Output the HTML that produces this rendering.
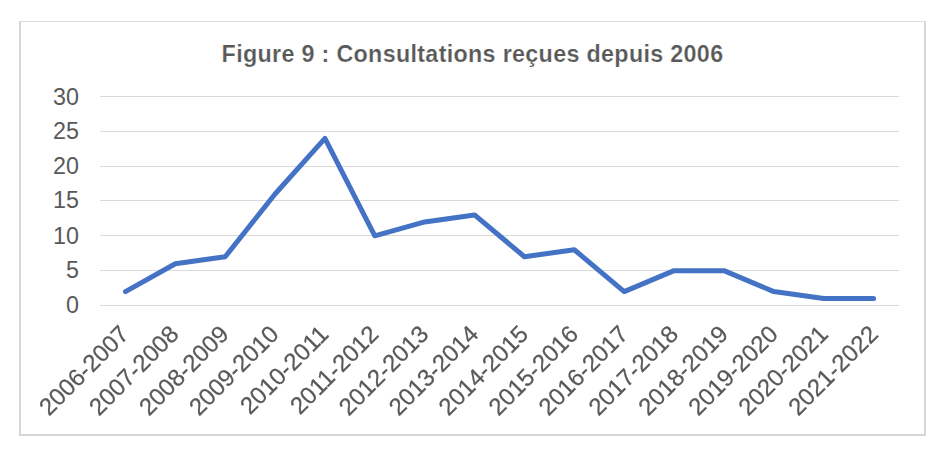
<!DOCTYPE html>
<html><head><meta charset="utf-8"><title>Figure 9</title>
<style>
html,body{margin:0;padding:0;background:#fff;}
body{width:950px;height:453px;overflow:hidden;position:relative;font-family:"Liberation Sans",Arial,sans-serif;}
#frame{position:absolute;left:19px;top:21px;width:903px;height:412px;border-style:solid;border-color:#dddddd #d6d6d6 #d6d6d6 #d6d6d6;border-width:1px 2px 2px 2px;background:#fff;}
svg{position:absolute;left:0;top:0;}
svg text{font-family:"Liberation Sans",Arial,sans-serif;fill:#595959;font-size:23.3px;}
svg text.title{font-weight:bold;font-size:23.3px;letter-spacing:0.32px;stroke:#fff;stroke-width:0.2px;}
svg text.xl{font-size:24px;stroke:#595959;stroke-width:0.25px;}
svg.gray{will-change:transform;}
</style></head><body>
<div id="frame"></div>
<svg width="950" height="453" viewBox="0 0 950 453">
<text class="title" x="472.5" y="62" text-anchor="middle">Figure 9 : Consultations reçues depuis 2006</text>
<rect x="100" y="305" width="799" height="1" fill="#d9d9d9"/>
<rect x="100" y="270" width="799" height="1" fill="#d9d9d9"/>
<rect x="100" y="235" width="799" height="1" fill="#d9d9d9"/>
<rect x="100" y="200" width="799" height="1" fill="#d9d9d9"/>
<rect x="100" y="166" width="799" height="1" fill="#d9d9d9"/>
<rect x="100" y="131" width="799" height="1" fill="#d9d9d9"/>
<rect x="100" y="96" width="799" height="1" fill="#d9d9d9"/>
<text x="79" y="313" text-anchor="end">0</text>
<text x="79" y="278" text-anchor="end">5</text>
<text x="79" y="244" text-anchor="end">10</text>
<text x="79" y="208" text-anchor="end">15</text>
<text x="79" y="174" text-anchor="end">20</text>
<text x="79" y="139" text-anchor="end">25</text>
<text x="79" y="105" text-anchor="end">30</text>
<polyline points="125.44,291.57 175.31,263.70 225.19,256.73 275.06,194.03 324.94,138.30 374.81,235.83 424.69,221.90 474.56,214.93 524.44,256.73 574.31,249.77 624.19,291.57 674.06,270.67 723.94,270.67 773.81,291.57 823.69,298.53 873.56,298.53" fill="none" stroke="#4472c4" stroke-width="5" stroke-linejoin="round" stroke-linecap="round"/>
</svg>
<svg class="gray" width="950" height="453" viewBox="0 0 950 453">
<text class="xl" text-anchor="end" transform="translate(130.27,335.50) rotate(-45)">2006-2007</text>
<text class="xl" text-anchor="end" transform="translate(180.21,335.50) rotate(-45)">2007-2008</text>
<text class="xl" text-anchor="end" transform="translate(230.14,335.50) rotate(-45)">2008-2009</text>
<text class="xl" text-anchor="end" transform="translate(280.08,335.50) rotate(-45)">2009-2010</text>
<text class="xl" text-anchor="end" transform="translate(330.02,335.50) rotate(-45)">2010-2011</text>
<text class="xl" text-anchor="end" transform="translate(379.96,335.50) rotate(-45)">2011-2012</text>
<text class="xl" text-anchor="end" transform="translate(429.89,335.50) rotate(-45)">2012-2013</text>
<text class="xl" text-anchor="end" transform="translate(479.83,335.50) rotate(-45)">2013-2014</text>
<text class="xl" text-anchor="end" transform="translate(529.77,335.50) rotate(-45)">2014-2015</text>
<text class="xl" text-anchor="end" transform="translate(579.71,335.50) rotate(-45)">2015-2016</text>
<text class="xl" text-anchor="end" transform="translate(629.64,335.50) rotate(-45)">2016-2017</text>
<text class="xl" text-anchor="end" transform="translate(679.58,335.50) rotate(-45)">2017-2018</text>
<text class="xl" text-anchor="end" transform="translate(729.52,335.50) rotate(-45)">2018-2019</text>
<text class="xl" text-anchor="end" transform="translate(779.46,335.50) rotate(-45)">2019-2020</text>
<text class="xl" text-anchor="end" transform="translate(829.39,335.50) rotate(-45)">2020-2021</text>
<text class="xl" text-anchor="end" transform="translate(879.33,335.50) rotate(-45)">2021-2022</text>
</svg>
</body></html>
